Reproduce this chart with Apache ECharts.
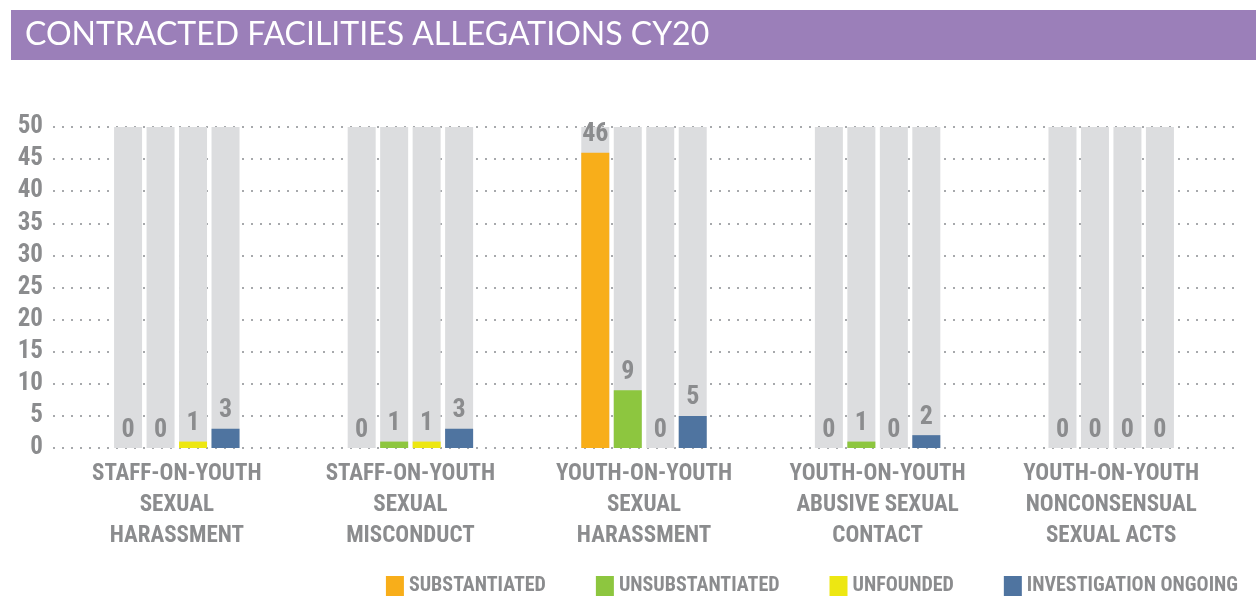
<!DOCTYPE html>
<html><head><meta charset="utf-8">
<script src="https://cdn.jsdelivr.net/npm/echarts@6/dist/echarts.min.js"></script>
<style>html,body{margin:0;padding:0;background:#fff}#c{width:1256px;height:597px}</style>
</head><body><div id="c"></div><script>
const categories = ['STAFF-ON-YOUTH\nSEXUAL\nHARASSMENT', 'STAFF-ON-YOUTH\nSEXUAL\nMISCONDUCT', 'YOUTH-ON-YOUTH\nSEXUAL\nHARASSMENT', 'YOUTH-ON-YOUTH\nABUSIVE SEXUAL\nCONTACT', 'YOUTH-ON-YOUTH\nNONCONSENSUAL\nSEXUAL ACTS'];
const seriesNames = ['SUBSTANTIATED', 'UNSUBSTANTIATED', 'UNFOUNDED', 'INVESTIGATION ONGOING'];
const substantiated = [0, 0, 46, 0, 0];
const unsubstantiated = [0, 1, 9, 1, 0];
const unfounded = [1, 1, 0, 0, 0];
const investigationOngoing = [3, 3, 5, 2, 0];
const yMin = 0, yMax = 50, yInterval = 5;
const titleText = 'CONTRACTED FACILITIES ALLEGATIONS CY20';

const colors = ['#f8ae1a', '#8dc63f', '#ede712', '#4f74a0'];
const GREY = '#8b8c8e';
const FONT = '"Roboto Condensed", sans-serif';
const WEIGHT = 'bold';
const seriesData = [substantiated, unsubstantiated, unfounded, investigationOngoing];

const chart = echarts.init(document.getElementById('c'), null, {renderer: 'canvas'});
const option = {
  animation: false,
  color: colors,
  graphic: [
    {type: 'rect', left: 11, top: 10, shape: {width: 1245, height: 50}, style: {fill: '#9b7fb9'}, z: 0},
    {type: 'text', left: 25, top: 19, style: {text: titleText, font: '32px Lato', fill: '#ffffff'}, z: 1}
  ],
  grid: [
    {left: 60, right: 28, top: 127, bottom: 149},
    {left: 53, right: 16, top: 127, bottom: 149}
  ],
  legend: {
    bottom: 1, right: 18, padding: 0, itemWidth: 18, itemHeight: 20, itemGap: 50, icon: 'rect',
    textStyle: {fontFamily: FONT, fontWeight: WEIGHT, fontSize: 20, color: GREY},
    data: seriesNames
  },
  xAxis: [
    {type: 'category', gridIndex: 0, data: categories,
     axisLine: {show: false}, axisTick: {show: false},
     axisLabel: {fontFamily: FONT, fontWeight: WEIGHT, fontSize: 23, color: GREY, lineHeight: 31, margin: 11, interval: 0}},
    {type: 'value', gridIndex: 1, show: false}
  ],
  yAxis: [
    {type: 'value', gridIndex: 0, min: yMin, max: yMax, interval: yInterval, show: false, splitLine: {show: false}},
    {type: 'value', gridIndex: 1, min: yMin, max: yMax, interval: yInterval,
     axisLine: {show: false}, axisTick: {show: false},
     axisLabel: {fontFamily: FONT, fontWeight: WEIGHT, fontSize: 25, color: GREY, margin: 10},
     splitLine: {show: true, lineStyle: {color: '#a7a9ac', width: 2, type: [2, 7]}}}
  ],
  series: seriesNames.map((n, i) => ({
    name: n, type: 'bar', xAxisIndex: 0, yAxisIndex: 0,
    data: seriesData[i], barWidth: 28, barGap: '16%',
    showBackground: true, backgroundStyle: {color: '#dcdddf'},
    label: {show: true, position: 'top', distance: 5, fontFamily: FONT, fontWeight: WEIGHT, fontSize: 26, color: GREY}
  }))
};
chart.setOption(option);
</script></body></html>
